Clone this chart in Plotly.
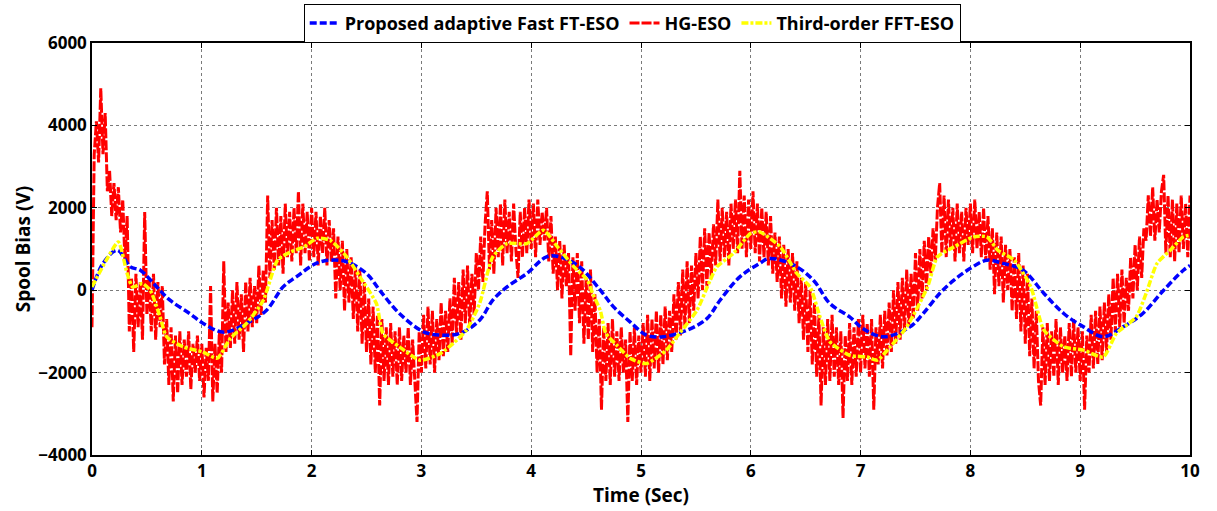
import numpy as np
import plotly.graph_objects as go

# ---- data ----
blue_t = [0, 0.1, 0.23, 0.35, 0.44, 0.59, 0.71, 0.89, 1.01, 1.2, 1.41, 1.59, 1.74, 1.86, 2.04, 2.17,
          2.32, 2.5, 2.62, 2.8, 3.02, 3.17, 3.35, 3.53, 3.65, 3.78, 3.96, 4.14, 4.26, 4.44, 4.63,
          4.75, 4.9, 5.05, 5.2, 5.42, 5.6, 5.72, 5.9, 6.08, 6.17, 6.39, 6.57, 6.72, 6.9, 7.02,
          7.21, 7.45, 7.57, 7.72, 7.85, 8.0, 8.15, 8.3, 8.48, 8.67, 8.85, 9.03, 9.21, 9.39, 9.57,
          9.76, 9.94, 10.0]
blue_v = [0, 650, 970, 566, 485, 80, -243, -566, -800, -1020, -800, -485, 80, 323, 650, 728,
          690, 405, 0, -566, -1010, -1090, -1050, -728, -243, 80, 405, 810, 810, 566, 0,
          -404, -768, -1090, -1130, -970, -690, -243, 323, 650, 770, 610, 243, -323, -647, -930,
          -1130, -890, -565, -80, 243, 530, 728, 650, 485, -80, -565, -890, -1130, -890, -565,
          0, 485, 600]

yel_t = [0, 0.13, 0.24, 0.32, 0.37, 0.46, 0.53, 0.62, 0.68, 0.83, 1.01, 1.14, 1.26, 1.41, 1.56,
         1.69, 1.81, 1.93, 2.05, 2.17, 2.32, 2.44, 2.59, 2.65, 2.8, 2.99, 3.17, 3.29, 3.41, 3.53,
         3.65, 3.78, 3.96, 4.11, 4.24, 4.39, 4.51, 4.56, 4.63, 4.68, 4.78, 4.9, 5.05, 5.23, 5.35,
         5.51, 5.63, 5.69, 5.84, 6.0, 6.08, 6.27, 6.42, 6.54, 6.63, 6.72, 6.9, 7.06, 7.15, 7.27,
         7.42, 7.61, 7.7, 7.85, 8.03, 8.15, 8.25, 8.4, 8.55, 8.67, 8.85, 9.03, 9.21, 9.33, 9.51,
         9.6, 9.7, 9.82, 9.94, 10.0]
yel_v = [80, 728, 1170, 405, 80, 160, 0, -647, -1130, -1375, -1500, -1650, -1170, -800, -243,
         728, 930, 1050, 1260, 1210, 810, 323, -323, -1050, -1375, -1700, -1540, -1290, -970, -323,
         810, 1130, 1130, 1455, 1050, 566, 250, -80, -500, -1050, -1335, -1650, -1780, -1455, -1050,
         -485, 243, 566, 890, 1380, 1415, 1050, 405, 80, -647, -1250, -1580, -1620, -1700, -1375,
         -890, 80, 810, 1050, 1295, 1295, 970, 728, 80, -970, -1375, -1455, -1620, -1050, -647,
         -80, 650, 970, 1295, 1335]

# HG-ESO samples every 0.02 s (one row per half second)
red_v = [
    -900, 3300, 4100, 3100, 4900, 3300, 4300, 2400, 2900, 1800, 2600, 1700, 2500, 1400, 2200, 700, 1800, -1000, 300, -1500, 400, -900, 200, -1200, 1900,
    -600, 300, -1000, 400, -1200, 200, -900, 100, -1800, -700, -2300, -900, -2700, -1100, -2500, -1000, -2300, -1200, -2100, -1000, -2400, -1300, -2000, -1100, -2200,
    -1300, -2600, -1400, -2200, 100, -2700, -1300, -2500, -1000, -2000, 700, -1500, -300, -1400, 0, -1300, 200, -1200, -100, -1500, 200, -1000, 300, -900, 100,
    -800, 600, -600, 500, -300, 2300, 300, 1700, 500, 2000, 600, 1800, 400, 2100, 800, 1900, 700, 2000, 900, 2400, 600, 2100, 900, 1900, 700,
    2000, 800, 1900, 600, 1800, 900, 2000, 600, 1700, 700, 1500, -200, 1300, 0, 1200, -500, 1000, -300, 800, -700, 600, -1000, 500, -1300, 200,
    -1500, -200, -1800, -400, -2000, -600, -2800, -700, -2200, -900, -2300, -800, -2100, -1000, -2300, -900, -2200, -1100, -2000, -900, -2300, -1200, -2100, -3200, -1000,
    -2000, -600, -1900, -400, -1800, -500, -2000, -700, -1700, -300, -1600, -500, -1500, -200, -1300, 300, -1100, 200, -1200, 500, -800, 600, -900, 400, -600,
    900, 0, 1300, 200, 1600, 2400, 500, 1700, 400, 2000, 800, 2100, 600, 2200, 900, 1900, 700, 2100, 1000, 300, 1900, 800, 2000, 900, 2200,
    1000, 2100, 800, 2200, 1100, 1900, 1200, 2000, 700, 1800, 400, 1300, 0, 1200, -200, 1100, 100, 900, -1600, 800, -500, 900, -800, 700, -1300,
    300, -1200, 500, -1500, -100, -2000, -700, -2900, -900, -2200, -800, -2300, -700, -2100, -1000, -2200, -900, -2000, -1200, -3200, -1000, -2200, -900, -2300, -1100,
    -2000, -800, -2100, -600, -2200, -700, -1900, -500, -2000, -600, -1800, -400, -1700, -500, -1500, -100, -1200, 200, -1100, 500, -900, 700, -800, 600, -500,
    900, -200, 1300, 0, 1500, 100, 1400, 300, 1600, 600, 2200, 700, 2000, 800, 1900, 600, 2100, 1000, 2200, 900, 2900, 1000, 2300, 800, 2200,
    1000, 2400, 900, 2100, 700, 2000, 800, 1900, 600, 1800, 400, 1400, 200, 1300, -200, 1100, -400, 1000, -300, 900, -500, 700, -800, 300, -1200,
    200, -1500, 0, -1800, -300, -2100, -600, -2800, -900, -2300, -700, -2200, -600, -2100, -900, -2300, -1000, -3100, -1100, -2200, -800, -2300, -900, -2100, -700,
    -2000, -600, -1900, -800, -2100, -700, -2900, -900, -1800, -600, -1900, -500, -1600, -300, -1500, 0, -1300, 200, -1200, 300, -1000, 500, -900, 400, -700,
    900, -500, 1000, -200, 1200, 0, 1300, 400, 1500, 700, 2000, 2600, 900, 2300, 800, 2200, 1000, 2000, 700, 2100, 900, 1900, 700, 2000, 1100,
    2100, 900, 2200, 1000, 1900, 800, 2000, 700, 1800, 500, 1500, -100, 1400, 100, 1300, -300, 1100, 0, 1000, -500, 800, -700, 900, -1000, 600,
    -1300, 400, -1600, -200, -1900, -500, -2200, -2800, -900, -2300, -800, -2200, -1000, -2100, -700, -2300, -900, -2000, -1100, -2200, -800, -2100, -700, -2000, -900,
    -2200, -1000, -2900, -1100, -2000, -600, -1900, -500, -1800, -400, -1700, -300, -1500, -100, -1200, 300, -1000, 400, -900, 500, -800, 300, -500, 800, -200,
    1100, 0, 1300, 300, 1500, 1200, 2300, 1300, 2500, 1200, 2200, 1400, 2400, 2800, 900, 2300, 800, 2200, 700, 2100, 900, 2300, 1000, 2100, 800,
    2300,
]
red_t = np.linspace(0, 10, len(red_v))

x_ticks = [0, 1, 2, 3, 4, 5, 6, 7, 8, 9, 10]
y_ticks = [-4000, -2000, 0, 2000, 4000, 6000]

FONT = "'Open Sans', 'Noto Sans', sans-serif"

fig = go.Figure()
fig.add_trace(go.Scatter(x=red_t, y=red_v, mode="lines", name="<b>HG-ESO</b>", legendrank=2,
                         line=dict(color="#FF0000", width=3, dash="10px,2px")))
fig.add_trace(go.Scatter(x=blue_t, y=blue_v, mode="lines", name="<b>Proposed adaptive Fast FT-ESO</b>",
                         legendrank=1, line=dict(color="#0000FF", width=3.5, dash="7px,3px", shape="spline")))
fig.add_trace(go.Scatter(x=yel_t, y=yel_v, mode="lines", name="<b>Third-order FFT-ESO</b>", legendrank=3,
                         line=dict(color="#FFFF00", width=3.5, dash="7px,2px,3px,2px", shape="spline",
                                   smoothing=0.6)))

axis_common = dict(showline=True, linecolor="black", linewidth=1.5, mirror="ticks",
                   ticks="inside", ticklen=5, tickcolor="black",
                   showgrid=True, gridcolor="#7a7a7a", griddash="dot", gridwidth=1,
                   zeroline=False,
                   tickfont=dict(family=FONT, size=17, color="black", weight="bold"))

fig.update_xaxes(range=[0, 10], tickvals=x_ticks,
                 title=dict(text="<b>Time (Sec)</b>", font=dict(family=FONT, size=19, color="black"),
                            standoff=2),
                 **axis_common)
fig.update_yaxes(range=[-4000, 6000], tickvals=y_ticks,
                 title=dict(text="<b>Spool Bias (V)</b>", font=dict(family=FONT, size=19, color="black"),
                            standoff=3),
                 **axis_common)

fig.update_layout(
    width=1217, height=511,
    margin=dict(l=92, r=27, t=43, b=56, autoexpand=False),
    paper_bgcolor="white", plot_bgcolor="white",
    font=dict(family=FONT, color="black"),
    showlegend=True,
    legend=dict(orientation="h", x=0.492, xanchor="center", y=1.095, yanchor="top",
                bordercolor="black", borderwidth=1, bgcolor="white",
                font=dict(family=FONT, size=18, color="black"),
                itemwidth=30, tracegroupgap=0),
)

fig.write_html("out.html")
